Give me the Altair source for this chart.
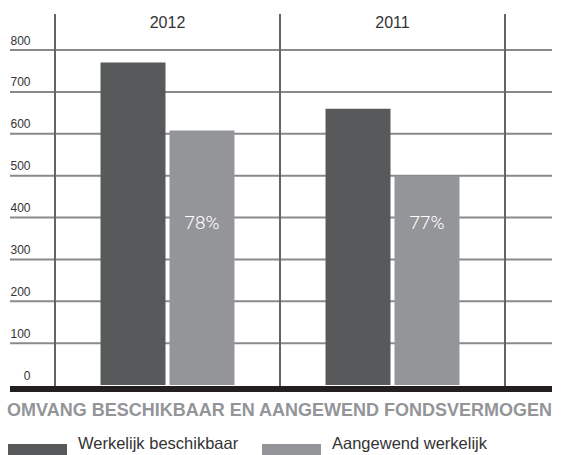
import altair as alt
import pandas as pd

# ---- data ----
years = ["2012", "2011"]
series = ["Werkelijk beschikbaar", "Aangewend werkelijk"]
beschikbaar = [770, 660]
aangewend = [608, 500]
percent_labels = ["78%", "77%"]
y_ticks = [0, 100, 200, 300, 400, 500, 600, 700, 800]
grid_values = [100, 200, 300, 400, 500, 600, 700, 800]
title_text = "OMVANG BESCHIKBAAR EN AANGEWEND FONDSVERMOGEN"

# ---- style ----
W, H = 450, 371
DARK = "#58595b"
LIGHT = "#939598"
TEXT = "#333333"
FONT = "Liberation Sans, Arial, sans-serif"

bars_df = pd.DataFrame(
    [{"year": y, "series": series[0], "value": v} for y, v in zip(years, beschikbaar)]
    + [{"year": y, "series": series[1], "value": v} for y, v in zip(years, aangewend)]
)
pct_df = pd.DataFrame({"year": years, "series": [series[1]] * len(years), "label": percent_labels})
grid_df = pd.DataFrame({"value": grid_values})
vline_df = pd.DataFrame({"year": years})
vline_end_df = pd.DataFrame({"year": [years[-1]]})

x_scale = alt.Scale(domain=years, paddingInner=0, paddingOuter=0)
xo_scale = alt.Scale(domain=series, paddingInner=0.058, paddingOuter=0.66)
y_scale = alt.Scale(domain=[0, 886], nice=False, zero=True)

x_axis = alt.Axis(
    orient="top", title=None, domain=False, ticks=False, grid=False,
    labelAngle=0, labelPadding=-13, labelBaseline="alphabetic",
    labelFontSize=16, labelFont=FONT, labelColor=TEXT,
)
y_axis = alt.Axis(
    values=y_ticks, title=None, domain=False, ticks=False, grid=False,
    labelAlign="right", labelPadding=25, labelBaseline="alphabetic",
    labelOffset=-6, labelFontSize=12, labelFont=FONT, labelColor=TEXT,
)

bars = alt.Chart(bars_df).mark_bar().encode(
    x=alt.X("year:N", scale=x_scale, sort=years, axis=x_axis),
    xOffset=alt.XOffset("series:N", scale=xo_scale, sort=series),
    y=alt.Y("value:Q", scale=y_scale, axis=y_axis),
    color=alt.Color(
        "series:N",
        sort=series,
        scale=alt.Scale(domain=series, range=[DARK, LIGHT]),
        legend=alt.Legend(
            title=None, orient="none", legendX=-47, legendY=400,
            direction="horizontal", columns=2, columnPadding=23,
            symbolType="M-1,0.0L1,0.0L1,0.5L-1,0.5Z", symbolSize=3481,
            symbolStrokeWidth=0, labelFontSize=16.5, labelFont=FONT,
            labelColor=TEXT, labelOffset=11, labelLimit=400,
        ),
    ),
)

grid = alt.Chart(grid_df).mark_rule(color="#8a8a8a", strokeWidth=2).encode(
    y=alt.Y("value:Q", scale=y_scale, axis=y_axis),
    x=alt.value(-45),
    x2=alt.value(W + 47),
)

vlines = alt.Chart(vline_df).mark_rule(color="#636466", strokeWidth=2).encode(
    x=alt.X("year:N", scale=x_scale, bandPosition=0, axis=x_axis),
    y=alt.value(0),
    y2=alt.value(H + 2),
)
vline_end = alt.Chart(vline_end_df).mark_rule(color="#636466", strokeWidth=2).encode(
    x=alt.X("year:N", scale=x_scale, bandPosition=1, axis=x_axis),
    y=alt.value(0),
    y2=alt.value(H + 2),
)

pct = alt.Chart(pct_df).mark_text(
    color="white", fontSize=19, fontWeight=300, font="Roboto, Lato, sans-serif",
    baseline="alphabetic", align="center",
).encode(
    x=alt.X("year:N", scale=x_scale, axis=x_axis),
    xOffset=alt.XOffset("series:N", scale=xo_scale),
    y=alt.value(215),
    text="label:N",
)

baseline = alt.Chart(grid_df).mark_rule(color="#231f20", strokeWidth=6, yOffset=4).encode(
    y=alt.datum(0),
    x=alt.value(-45),
    x2=alt.value(W + 47),
)

chart = alt.layer(grid, vlines, vline_end, bars, pct, baseline).properties(
    width=W,
    height=H,
    autosize=alt.AutoSizeParams(type="none"),
    padding={"left": 55, "top": 14, "right": 58, "bottom": 70},
    title=alt.TitleParams(
        title_text, orient="top", anchor="start", dy=421, offset=0,
        baseline="alphabetic", font=FONT, fontSize=18, fontWeight="bold",
        color=LIGHT,
    ),
).configure_view(stroke=None)

chart.save("out.html", embed_options={"renderer": "svg", "actions": False})
